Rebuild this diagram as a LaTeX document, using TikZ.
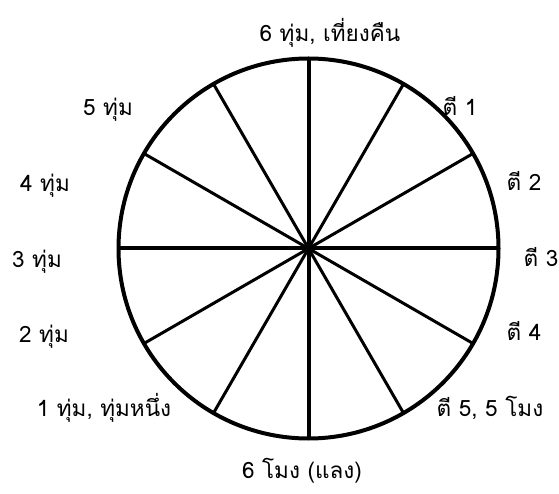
\documentclass[tikz,border=0pt]{standalone}
\usepackage{fontspec}
\setmainfont[Script=Thai]{Loma}
\begin{document}
\begin{tikzpicture}[x=1pt,y=-1pt,
  lbl/.style={anchor=base,inner sep=0pt,font=\fontsize{22.5}{26}\selectfont},
  axis/.style={line width=4pt},
  spoke/.style={line width=3pt}]
\useasboundingbox (0,0) rectangle (559,494);
\node[circle,draw,line width=4pt,minimum size=380pt,inner sep=0pt,outer sep=0pt] (c) at (308.5,248.5) {};
\draw[axis] (c.90) -- (c.270);
\draw[axis] (c.0) -- (c.180);
\draw[spoke] (c.30) -- (c.210);
\draw[spoke] (c.60) -- (c.240);
\draw[spoke] (c.120) -- (c.300);
\draw[spoke] (c.150) -- (c.330);
\node[lbl] (t12) at (330,42) {6 ทุ่ม, เที่ยงคืน};
\node[lbl] (t1) at (460,116) {ตี 1};
\node[lbl] (t2) at (524,191) {ตี 2};
\node[lbl] (t3) at (541,266) {ตี 3};
\node[lbl] (t4) at (524,340) {ตี 4};
\node[lbl] (t5) at (490,416) {ตี 5, 5 โมง};
\node[lbl] (t6) at (302,478) {6 โมง (แลง)};
\node[lbl] (t7) at (104,416) {1 ทุ่ม, ทุ่มหนึ่ง};
\node[lbl] (t8) at (44,342) {2 ทุ่ม};
\node[lbl] (t9) at (37,267) {3 ทุ่ม};
\node[lbl] (t10) at (45,192) {4 ทุ่ม};
\node[lbl] (t11) at (108,116) {5 ทุ่ม};
\end{tikzpicture}
\end{document}
